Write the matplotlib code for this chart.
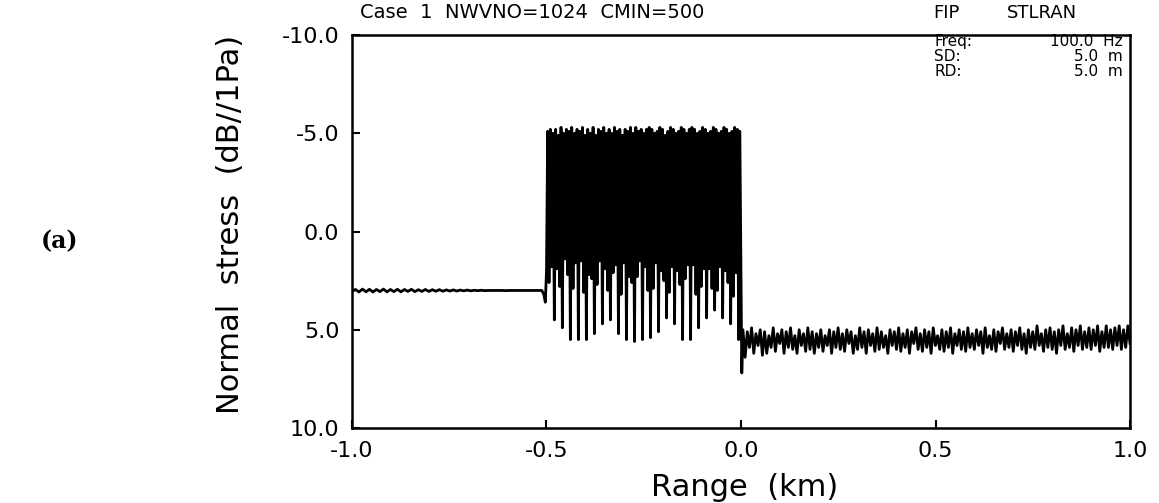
import numpy as np
import matplotlib
matplotlib.use("Agg")
import matplotlib.pyplot as plt
from matplotlib.ticker import FormatStrFormatter

# --- values (range in km, normal stress in dB//1Pa) ---
# flat part left of the source region: small ripple around 3 dB
flat_y = [3.05, 2.95, 3.08, 2.93, 3.07, 2.94, 3.08, 2.95, 3.06, 2.93,
          3.07, 2.95, 3.06, 2.94, 3.07, 2.95, 3.05, 2.94, 3.06, 2.96,
          3.05, 2.95, 3.05, 2.96, 3.04, 2.96, 3.04, 2.97, 3.03, 2.97,
          3.03, 2.98, 3.02, 2.98, 3.02, 2.99, 3.01, 2.99, 3.01, 3.00,
          3.00, 3.00, 3.00, 3.00, 3.01, 3.00, 3.00, 3.00, 3.00, 3.00,
          3.00, 3.00, 3.00, 3.00, 3.00]
flat_range = (-1.0, -0.515)

# hook just before the jump at -0.5 km
hook_x = [-0.512, -0.507, -0.503, -0.500]
hook_y = [3.0, 3.2, 3.6, 2.0]

# strongly oscillating zone between -0.5 and 0 km (peak, dip, peak, dip, peak, deep dip)
dense_y = [
    -5.1, 2.6, -5.2, 1.8, -5.0, 4.5,
    -5.2, 1.9, -4.9, 2.8, -5.3, 4.9,
    -5.0, 1.4, -5.2, 2.2, -5.1, 5.5,
    -5.3, 2.9, -5.0, 1.6, -5.2, 5.5,
    -5.1, 1.5, -5.3, 3.1, -4.9, 5.5,
    -5.2, 2.2, -5.0, 2.4, -5.3, 5.2,
    -4.9, 2.7, -5.2, 1.5, -5.1, 4.7,
    -5.3, 1.9, -5.0, 3.0, -5.2, 4.5,
    -5.0, 2.1, -5.3, 1.7, -5.1, 5.2,
    -5.2, 3.2, -4.9, 1.6, -5.2, 5.5,
    -5.1, 2.3, -5.3, 2.6, -5.0, 5.6,
    -5.3, 2.3, -5.1, 1.5, -5.2, 5.5,
    -5.0, 1.8, -5.2, 3.0, -5.3, 5.4,
    -5.2, 2.9, -5.0, 1.6, -5.1, 5.1,
    -5.3, 2.0, -5.2, 2.5, -4.9, 4.4,
    -5.1, 3.1, -5.3, 1.8, -5.2, 4.7,
    -5.0, 2.0, -5.1, 2.7, -5.3, 5.5,
    -5.2, 2.4, -5.0, 1.7, -5.2, 5.5,
    -5.3, 1.7, -5.2, 3.2, -5.0, 4.9,
    -5.1, 2.8, -5.3, 1.9, -5.2, 4.4,
    -5.0, 1.9, -5.1, 2.9, -5.3, 4.0,
    -5.2, 3.0, -5.0, 1.8, -5.1, 4.4,
    -5.3, 2.0, -5.2, 2.6, -5.0, 4.7,
    -5.1, 3.3, -5.3, 2.1, -5.2, 5.5,
]
dense_range = (-0.497, -0.006)

# drop right at 0 km
edge_x = [-0.003, 0.002]
edge_y = [-5.1, 7.2]

# band right of the source region (0 .. 1 km)
band_y = [
    5.0, 6.4, 5.1, 5.9, 4.9, 6.2, 5.2, 5.8, 5.0, 6.3,
    5.1, 6.2, 5.3, 5.9, 4.9, 6.1, 5.2, 5.7, 5.0, 6.2,
    5.1, 5.9, 4.9, 6.0, 5.3, 6.2, 5.0, 5.8, 5.2, 6.1,
    4.9, 6.0, 5.1, 6.2, 5.2, 5.9, 5.0, 6.1, 5.3, 5.8,
    5.0, 6.2, 5.1, 5.9, 4.9, 6.0, 5.2, 6.1, 5.0, 5.7,
    5.1, 6.2, 5.3, 6.0, 4.9, 5.9, 5.1, 6.2, 5.0, 5.8,
    5.2, 6.1, 4.9, 6.0, 5.1, 5.9, 5.3, 6.2, 5.0, 5.8,
    5.1, 6.0, 4.9, 6.1, 5.2, 5.9, 5.0, 6.2, 5.1, 5.7,
    4.9, 6.0, 5.2, 6.1, 5.0, 5.9, 5.1, 6.2, 4.9, 5.8,
    5.3, 6.0, 5.0, 6.1, 5.1, 5.9, 4.9, 6.2, 5.2, 5.8,
    5.0, 6.0, 5.1, 6.1, 4.9, 5.9, 5.2, 6.0, 5.0, 5.8,
    5.1, 6.2, 4.9, 5.9, 5.3, 6.0, 5.0, 6.1, 5.1, 5.7,
    4.9, 6.0, 5.2, 5.9, 5.0, 6.1, 5.1, 5.8, 4.9, 6.0,
    5.2, 6.2, 5.0, 5.9, 5.1, 6.0, 4.8, 5.8, 5.2, 6.1,
    5.0, 5.9, 4.9, 6.0, 5.1, 6.2, 5.0, 5.8, 4.8, 6.0,
    5.2, 5.9, 4.9, 6.1, 5.0, 5.8, 4.8, 6.0, 5.1, 5.9,
    4.9, 6.0, 5.0, 5.8, 4.8, 6.1, 5.1, 5.9, 4.8, 5.9,
    5.0, 6.0, 4.9, 5.8, 4.8, 6.0, 5.0, 5.9, 4.8, 5.7,
]
band_range = (0.005, 1.0)

x_ticks = [-1.0, -0.5, 0.0, 0.5, 1.0]
y_ticks = [-10.0, -5.0, 0.0, 5.0, 10.0]

title_left = "Case  1  NWVNO=1024  CMIN=500"
info_keys = ["Freq:", "SD:", "RD:"]
info_vals = ["100.0  Hz", "5.0  m", "5.0  m"]

# --- assemble the trace ---
x = np.concatenate([np.linspace(*flat_range, len(flat_y)), hook_x,
                    np.linspace(*dense_range, len(dense_y)), edge_x,
                    np.linspace(*band_range, len(band_y))])
y = np.concatenate([flat_y, hook_y, dense_y, edge_y, band_y])

fig = plt.figure(figsize=(11.59, 5.03), dpi=100)
ax = fig.add_axes([0.3037, 0.1491, 0.6713, 0.7813])
ax.plot(x, y, color="black", lw=2.0)

ax.set_xlim(-1.0, 1.0)
ax.set_ylim(10.0, -10.0)
ax.set_xticks(x_ticks)
ax.set_yticks(y_ticks)
ax.xaxis.set_major_formatter(FormatStrFormatter("%.1f"))
ax.yaxis.set_major_formatter(FormatStrFormatter("%.1f"))
ax.tick_params(direction="in", length=6, width=1.5, labelsize=16, pad=9)
for s in ax.spines.values():
    s.set_linewidth(1.8)

ax.set_xlabel("Range  (km)", fontsize=22)
ax.xaxis.set_label_coords(0.505, -0.115)
ax.set_ylabel("Normal  stress  (dB//1Pa)", fontsize=22)
ax.yaxis.set_label_coords(-0.1375, 0.517)

fig.text(0.311, 0.975, title_left, fontsize=14, ha="left", va="center")
fig.text(0.805, 0.975, "FIP", fontsize=13, ha="left", va="center")
fig.text(0.869, 0.975, "STLRAN", fontsize=13, ha="left", va="center")
for i, (k, v) in enumerate(zip(info_keys, info_vals)):
    yy = 0.918 - i * 0.030
    fig.text(0.806, yy, k, fontsize=11, ha="left", va="center")
    fig.text(0.969, yy, v, fontsize=11, ha="right", va="center")

fig.text(0.035, 0.52, "(a)", fontsize=17, fontweight="bold",
         family="DejaVu Serif", ha="left", va="center")

fig.savefig("out.png", dpi=100)
